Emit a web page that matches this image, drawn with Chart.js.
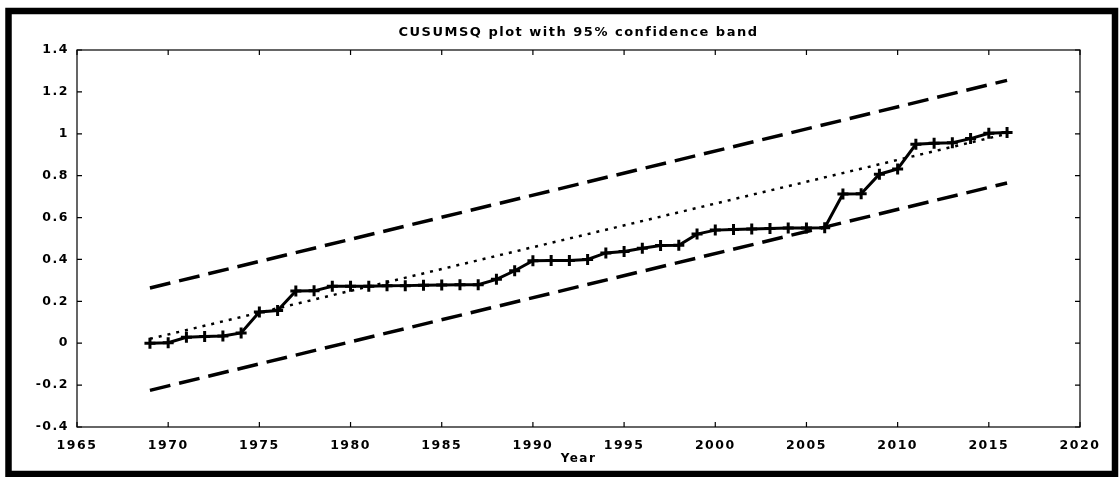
<!DOCTYPE html>
<html>
<head>
<meta charset="utf-8">
<script src="https://cdn.jsdelivr.net/npm/chart.js@4/dist/chart.umd.min.js"></script>
<style>
  html, body { margin: 0; padding: 0; background: #fff; }
  canvas { display: block; }
</style>
</head>
<body>
<canvas id="cusumChart" width="1119" height="477"></canvas>
<script>
// values
const years = [1969, 1970, 1971, 1972, 1973, 1974, 1975, 1976, 1977, 1978,
  1979, 1980, 1981, 1982, 1983, 1984, 1985, 1986, 1987, 1988,
  1989, 1990, 1991, 1992, 1993, 1994, 1995, 1996, 1997, 1998,
  1999, 2000, 2001, 2002, 2003, 2004, 2005, 2006, 2007, 2008,
  2009, 2010, 2011, 2012, 2013, 2014, 2015, 2016];
const cusumsq = [0.000, 0.002, 0.028, 0.032, 0.034, 0.049, 0.149, 0.156, 0.249, 0.250,
  0.272, 0.272, 0.272, 0.274, 0.275, 0.277, 0.278, 0.279, 0.279, 0.305,
  0.346, 0.394, 0.395, 0.395, 0.400, 0.431, 0.438, 0.453, 0.466, 0.468,
  0.521, 0.540, 0.543, 0.545, 0.548, 0.550, 0.550, 0.551, 0.712, 0.714,
  0.807, 0.832, 0.950, 0.955, 0.957, 0.977, 1.002, 1.006];

const bandYears = [1969, 2016];
const upperBand = [0.264, 1.255];
const lowerBand = [-0.225, 0.765];
const expectedLine = [0.021, 1.0];

const xTicks = [1965, 1970, 1975, 1980, 1985, 1990, 1995, 2000, 2005, 2010, 2015, 2020];
const yTicks = [-0.4, -0.2, 0, 0.2, 0.4, 0.6, 0.8, 1, 1.2, 1.4];
const yTickLabels = ['-0.4', '-0.2', '0', '0.2', '0.4', '0.6', '0.8', '1', '1.2', '1.4'];

function pairs(xs, ys) {
  return xs.map((x, i) => ({ x: x, y: ys[i] }));
}

// frame, box and inward tick marks like the original plot
const framePlugin = {
  id: 'frame',
  beforeLayout(chart) { chart.ctx.letterSpacing = '1.5px'; },
  afterLayout(chart) {
    // centre the title over the plot box, not the whole canvas
    if (chart.titleBlock) {
      chart.titleBlock.left = chart.chartArea.left;
      chart.titleBlock.right = chart.chartArea.right;
    }
  },
  beforeDraw(chart) {
    const ctx = chart.ctx;
    ctx.letterSpacing = '1.5px';
    ctx.save();
    ctx.fillStyle = '#fff';
    ctx.fillRect(0, 0, chart.width, chart.height);
    ctx.strokeStyle = '#000';
    ctx.lineWidth = 6.5;
    ctx.strokeRect(8.5, 11, 1106.5, 463);
    ctx.restore();
  },
  afterDraw(chart) {
    const ctx = chart.ctx;
    const a = chart.chartArea;
    const xs = chart.scales.x, ys = chart.scales.y;
    const len = 5;
    ctx.save();
    ctx.strokeStyle = '#000';
    ctx.lineWidth = 1.2;
    ctx.strokeRect(a.left, a.top, a.right - a.left, a.bottom - a.top);
    ctx.beginPath();
    xTicks.forEach(t => {
      const px = xs.getPixelForValue(t);
      ctx.moveTo(px, a.bottom); ctx.lineTo(px, a.bottom - len);
      ctx.moveTo(px, a.top); ctx.lineTo(px, a.top + len);
    });
    yTicks.forEach(t => {
      const py = ys.getPixelForValue(t);
      ctx.moveTo(a.left, py); ctx.lineTo(a.left + len, py);
      ctx.moveTo(a.right, py); ctx.lineTo(a.right - len, py);
    });
    ctx.stroke();
    ctx.restore();
  }
};

Chart.defaults.font.family = '"DejaVu Sans", Verdana, sans-serif';
Chart.defaults.font.weight = 'bold';
Chart.defaults.font.size = 12.5;
Chart.defaults.color = '#000';

const ctx = document.getElementById('cusumChart').getContext('2d');
const myChart = new Chart(ctx, {
  type: 'line',
  data: {
    datasets: [
      {
        label: 'CUSUMSQ',
        data: pairs(years, cusumsq),
        borderColor: '#000',
        borderWidth: 3,
        pointStyle: 'cross',
        pointRadius: 5.5,
        pointBorderWidth: 3,
        pointBorderColor: '#000',
        tension: 0
      },
      {
        label: 'Expected',
        data: pairs(bandYears, expectedLine),
        borderColor: '#000',
        borderWidth: 2.5,
        borderDash: [3, 6],
        pointRadius: 0
      },
      {
        label: 'Upper 95%',
        data: pairs(bandYears, upperBand),
        borderColor: '#000',
        borderWidth: 3.5,
        borderDash: [21, 9],
        pointRadius: 0
      },
      {
        label: 'Lower 95%',
        data: pairs(bandYears, lowerBand),
        borderColor: '#000',
        borderWidth: 3.5,
        borderDash: [21, 9],
        pointRadius: 0
      }
    ]
  },
  options: {
    responsive: false,
    animation: false,
    layout: { padding: { left: 0, right: 39, top: 0, bottom: 0 } },
    plugins: {
      legend: { display: false },
      tooltip: { enabled: false },
      title: {
        display: true,
        text: 'CUSUMSQ plot with 95% confidence band',
        font: { size: 13, weight: 'bold' },
        padding: { top: 25, bottom: 9.4 }
      }
    },
    scales: {
      x: {
        type: 'linear',
        min: 1965,
        max: 2020,
        afterBuildTicks(scale) { scale.ticks = xTicks.map(v => ({ value: v })); },
        afterFit(scale) { scale.height = 50; },
        grid: { display: false, drawTicks: false },
        border: { display: false },
        ticks: { padding: 11, maxRotation: 0, autoSkip: false, callback: v => String(v) },
        title: { display: true, text: 'Year', font: { size: 12, weight: 'bold' }, padding: { top: 0, bottom: 11 } }
      },
      y: {
        type: 'linear',
        min: -0.4,
        max: 1.4,
        afterBuildTicks(scale) { scale.ticks = yTicks.map(v => ({ value: v })); },
        afterFit(scale) { scale.width = 77; },
        grid: { display: false, drawTicks: false },
        border: { display: false },
        ticks: {
          padding: 8,
          autoSkip: false,
          callback: (v) => yTickLabels[yTicks.findIndex(t => Math.abs(t - v) < 1e-9)]
        }
      }
    }
  },
  plugins: [framePlugin]
});
</script>
</body>
</html>
